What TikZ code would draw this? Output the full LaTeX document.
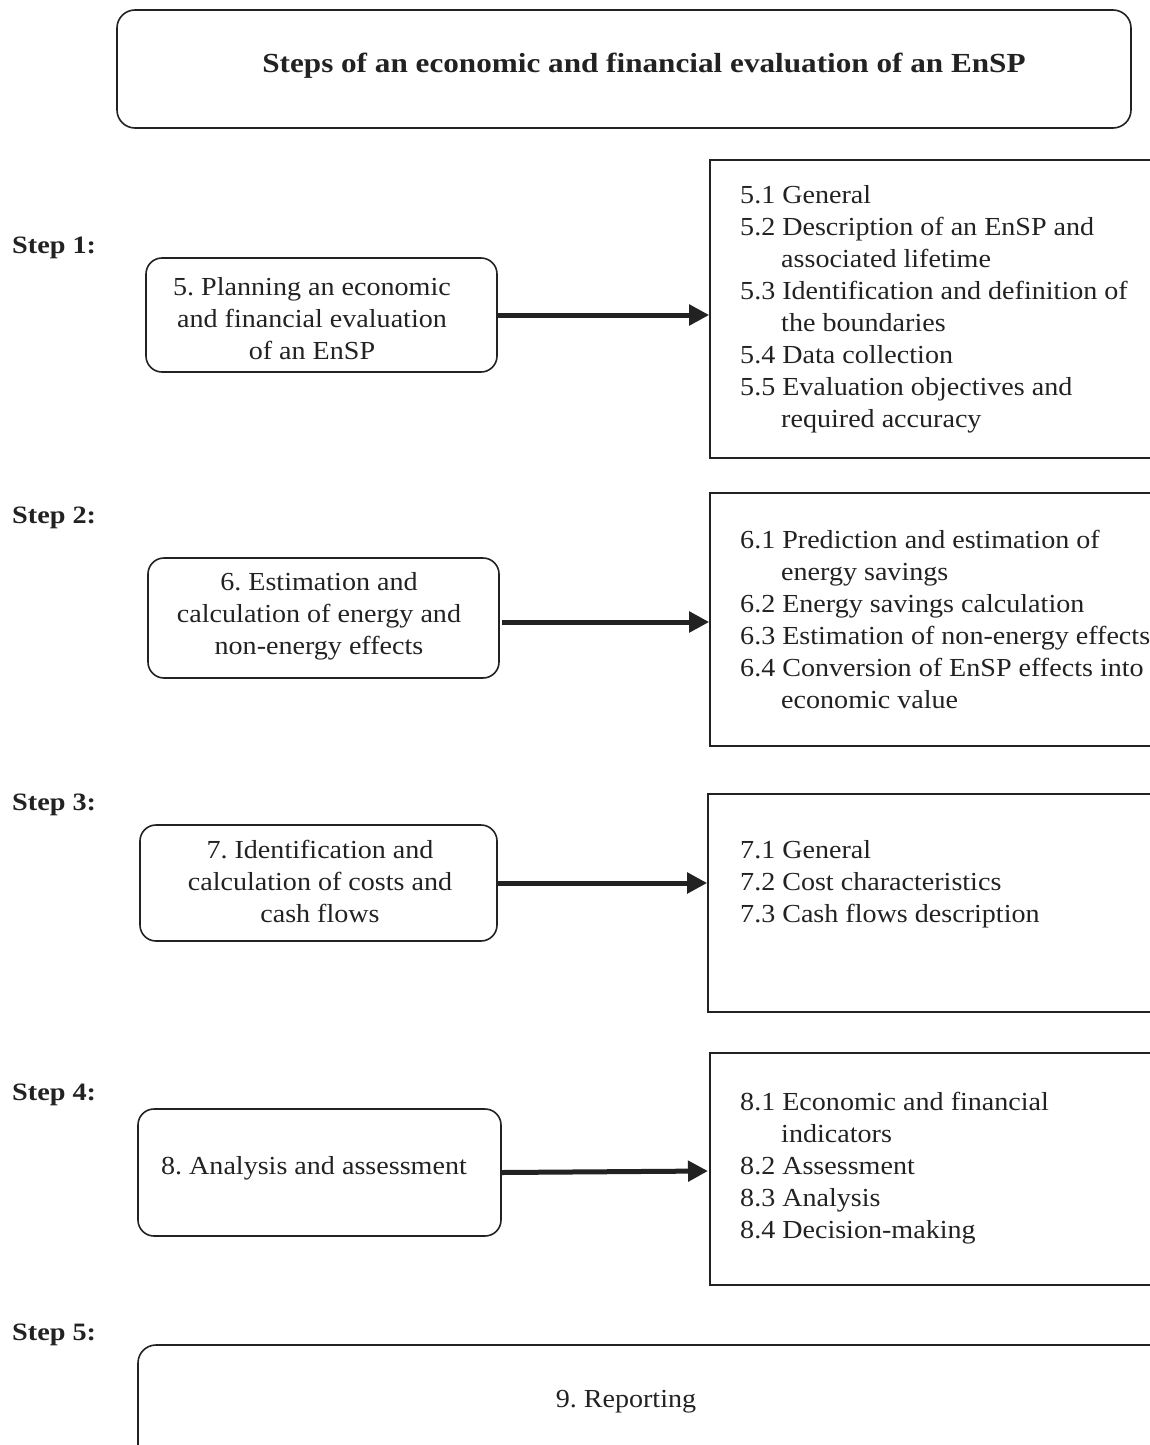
\documentclass[tikz,border=0pt]{standalone}
\usepackage{fontspec}
\setmainfont{Liberation Serif}[FakeStretch=1.08]
\newfontfamily\titlefont{Liberation Serif}[FakeStretch=1.13]
\usetikzlibrary{arrows.meta,calc}
\definecolor{ink}{HTML}{222222}
\tikzset{
  bodyfont/.style={font=\fontsize{26}{32}\selectfont\frenchspacing},
  lbox/.style={draw=ink, line width=1.6pt, rounded corners=16pt, inner sep=0pt},
  ltext/.style={align=center, inner sep=0pt, text=ink, bodyfont},
  rbox/.style={draw=ink, line width=1.6pt, inner sep=0pt},
  rlist/.style={anchor=north west, align=left, inner sep=0pt, text=ink, bodyfont},
  steplabel/.style={anchor=base west, inner sep=0pt, text=ink, font=\titlefont\fontsize{25}{28}\selectfont\bfseries},
  arr/.style={draw=ink, line width=5pt, -{Triangle[length=20pt,width=20pt]}},
}
\newcommand{\ind}[1]{\hspace*{41pt}#1}
\begin{document}
\begin{tikzpicture}[x=1pt,y=-1pt]
\useasboundingbox (0,0) rectangle (1150,1445);
\clip (0,0) rectangle (1150,1445);
% title
\node[draw=ink, line width=1.6pt, rounded corners=18pt, minimum width=1014pt, minimum height=118pt, inner sep=0pt] (title) at (624,69) {};
\node[text=ink, inner sep=0pt, font=\titlefont\fontsize{27.6}{32}\selectfont\bfseries] (titletext) at (644,66) {Steps of an economic and financial evaluation of an EnSP};
% step labels
\node[steplabel] (s1) at (12,253) {Step 1:};
\node[steplabel] (s2) at (12,523) {Step 2:};
\node[steplabel] (s3) at (12,810) {Step 3:};
\node[steplabel] (s4) at (12,1100) {Step 4:};
\node[steplabel] (s5) at (12,1340) {Step 5:};
% left boxes
\node[lbox, minimum width=351pt, minimum height=114pt] (l1) at (321.5,315) {};
\node[lbox, minimum width=351pt, minimum height=120pt] (l2) at (323.5,618) {};
\node[lbox, minimum width=357pt, minimum height=116pt] (l3) at (318.5,883) {};
\node[lbox, minimum width=363pt, minimum height=127pt] (l4) at (319.5,1172.5) {};
\node[ltext] (l1t) at (312,319) {5. Planning an economic\\and financial evaluation\\of an EnSP};
\node[ltext] (l2t) at (319,616) {6. Estimation and\\calculation of energy and\\non-energy effects};
\node[ltext] (l3t) at (320,881) {7. Identification and\\calculation of costs and\\cash flows};
\node[ltext] (l4t) at (314,1168) {8. Analysis and assessment};
% right boxes
\node[rbox, minimum width=460pt, minimum height=298pt] (r1) at (940,309) {};
\node[rbox, minimum width=460pt, minimum height=253pt] (r2) at (940,619.5) {};
\node[rbox, minimum width=462pt, minimum height=218pt] (r3) at (939,903) {};
\node[rbox, minimum width=460pt, minimum height=232pt] (r4) at (940,1169) {};
% right texts
\node[rlist] (t1) at (740,185) {5.1 General\\5.2 Description of an EnSP and\\\ind{associated lifetime}\\5.3 Identification and definition of\\\ind{the boundaries}\\5.4 Data collection\\5.5 Evaluation objectives and\\\ind{required accuracy}};
\node[rlist] (t2) at (740,530) {6.1 Prediction and estimation of\\\ind{energy savings}\\6.2 Energy savings calculation\\6.3 Estimation of non-energy effects\\6.4 Conversion of EnSP effects into\\\ind{economic value}};
\node[rlist] (t3) at (740,840) {7.1 General\\7.2 Cost characteristics\\7.3 Cash flows description};
\node[rlist] (t4) at (740,1092) {8.1 Economic and financial\\\ind{indicators}\\8.2 Assessment\\8.3 Analysis\\8.4 Decision-making};
% reporting
\node[draw=ink, line width=1.6pt, rounded corners=18pt, minimum width=1040pt, minimum height=140pt, inner sep=0pt] (rep) at (658,1415) {};
\node[text=ink, bodyfont, inner sep=0pt] (reptext) at (626,1402) {9. Reporting};
% arrows
\coordinate (a2) at (502,622);
\draw[arr] (l1.east) -- (l1.east -| r1.west);
\draw[arr] (a2) -- (a2 -| r2.west);
\draw[arr] (l3.east) -- (l3.east -| r3.west);
\coordinate (a4) at (708,1171);
\draw[arr] (l4.east) -- (a4);
\end{tikzpicture}
\end{document}
